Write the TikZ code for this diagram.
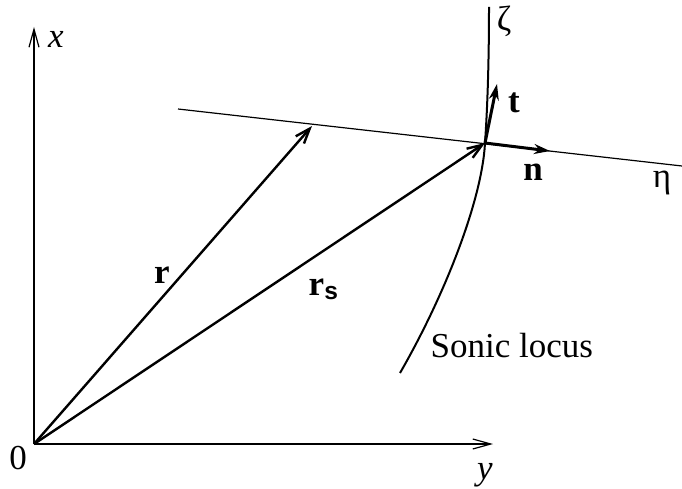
\documentclass[tikz,border=0pt]{standalone}
\usepackage{fontspec}
\setmainfont{Liberation Serif}
\setsansfont{Liberation Sans}
\usetikzlibrary{arrows.meta}

\begin{document}
\begin{tikzpicture}[x=1pt, y=-1pt, >=Stealth, thick,
    font=\fontsize{35}{42}\selectfont,
    axis/.style={line width=1.2pt, -{Straight Barb[length=18pt,width=10pt]}},
    vec/.style={line width=2.4pt, -{Straight Barb[length=15pt,width=11pt]}},
    unitvec/.style={line width=3pt, -{Stealth[length=16pt,width=10pt]}}]
    \useasboundingbox (0,0) rectangle (682,489);

    % 关键点
    \coordinate (O) at (34,444);
    \coordinate (xend) at (34,27);
    \coordinate (yend) at (493,444);
    \coordinate (P) at (485,143);
    \coordinate (R) at (312,126);
    \coordinate (etaL) at (178,109);
    \coordinate (etaR) at (682,166);
    \coordinate (tend) at (497,84);
    \coordinate (nend) at (550,151);
    \coordinate (S0) at (400,373);
    \coordinate (S1) at (489,7);

    % 坐标轴
    \draw[axis] (O) -- (xend);
    \draw[axis] (O) -- (yend);
    \node[anchor=base] (xlab) at (56,48) {\textit{x}};
    \node[anchor=base] (ylab) at (485,479) {\textit{y}};
    \node[anchor=base] (olab) at (18,469) {0};

    % η 直线
    \draw[line width=1.2pt] (etaL) -- (etaR);
    \node[anchor=base] (etalab) at (662,187) {η};

    % 声速线 (ζ)
    \draw[line width=2pt] (S0) .. controls (445,295) and (482,200) .. (P)
        .. controls (488,100) and (489,50) .. (S1);
    \node (zetalab) at (504,21) {ζ};
    \node[anchor=base west] (sonic) at (427,357) {Sonic locus};

    % 矢径 r, r_s
    \draw[vec] (O) -- (R);
    \node[anchor=base] (rlab) at (162,283) {\textbf{r}};
    \draw[vec] (O) -- (P);
    \node[anchor=base west] (rslab) at (305,295) {\textbf{r}\textsubscript{\sffamily\bfseries s}};

    % 单位矢量 t, n
    \draw[unitvec] (P) -- (tend);
    \node[anchor=base] (tlab) at (514,113) {\textbf{t}};
    \draw[unitvec] (P) -- (nend);
    \node[anchor=base] (nlab) at (533,180) {\textbf{n}};
\end{tikzpicture}
\end{document}
